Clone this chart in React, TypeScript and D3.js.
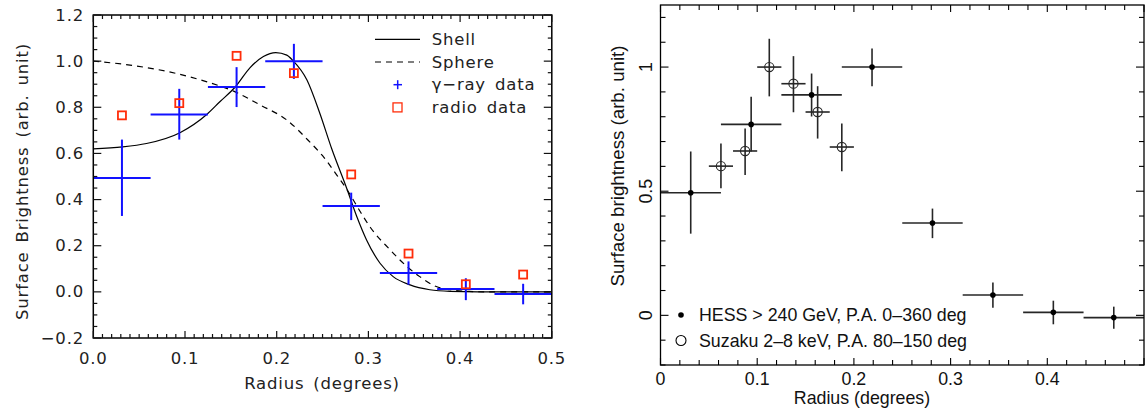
import React from 'react';
import * as d3 from 'd3';

// ---- Data ----
const binLo = [0, 0.0625, 0.125, 0.1875, 0.25, 0.3125, 0.375, 0.4375];
const binHi = [0.0625, 0.125, 0.1875, 0.25, 0.3125, 0.375, 0.4375, 0.5];
const binMid = [0.03125, 0.09375, 0.15625, 0.21875, 0.28125, 0.34375, 0.40625, 0.46875];
const gammaY = [0.494, 0.769, 0.888, 1.0, 0.372, 0.082, 0.012, -0.009];
const gammaErrHi = [0.66, 0.88, 0.974, 1.075, 0.43, 0.132, 0.059, 0.035];
const gammaErrLo = [0.329, 0.66, 0.801, 0.923, 0.311, 0.031, -0.036, -0.054];
const radioY = [0.765, 0.818, 1.023, 0.948, 0.509, 0.166, 0.033, 0.075];

const shellX = [0, 0.032, 0.058, 0.0945, 0.124, 0.138, 0.155, 0.171, 0.1855, 0.199, 0.211, 0.218, 0.233, 0.247, 0.26, 0.2763, 0.287, 0.298, 0.3127, 0.327, 0.3454, 0.367, 0.389, 0.42, 0.5];
const shellY = [0.62, 0.628, 0.643, 0.69, 0.77, 0.824, 0.889, 0.972, 1.02, 1.037, 1.026, 1.001, 0.918, 0.774, 0.62, 0.449, 0.33, 0.225, 0.124, 0.066, 0.03, 0.009, 0.002, 0, 0];

const sphereX = [0, 0.04, 0.09, 0.124, 0.153, 0.182, 0.211, 0.236, 0.25, 0.264, 0.278, 0.29, 0.302, 0.323, 0.342, 0.356, 0.374, 0.389, 0.41, 0.43, 0.5];
const sphereY = [1.0, 0.983, 0.947, 0.91, 0.87, 0.81, 0.745, 0.65, 0.59, 0.515, 0.435, 0.355, 0.28, 0.185, 0.11, 0.066, 0.023, 0.009, 0.002, 0, 0];

const suzX = [0.0625, 0.0875, 0.1125, 0.1375, 0.1625, 0.1875];
const suzLo = [0.05, 0.075, 0.1, 0.125, 0.15, 0.175];
const suzHi = [0.075, 0.1, 0.125, 0.15, 0.175, 0.2];
const suzY = [0.601, 0.662, 1.0, 0.933, 0.819, 0.678];
const suzErrHi = [0.692, 0.753, 1.114, 1.044, 0.923, 0.773];
const suzErrLo = [0.512, 0.565, 0.882, 0.818, 0.712, 0.58];

const leftLegend = ['Shell', 'Sphere', 'γ−ray data', 'radio data'];
const rightLegend = ['HESS > 240 GeV, P.A. 0–360 deg', 'Suzaku 2–8 keV, P.A. 80–150 deg'];

// ---- Scales ----
const xL = d3.scaleLinear().domain([0, 0.5]).range([93.3, 551.8]);
const yL = d3.scaleLinear().domain([-0.2, 1.2]).range([338, 15]);
const xR = d3.scaleLinear().domain([0, 0.5]).range([660.5, 1144]);
const yR = d3.scaleLinear().domain([-0.2, 1.25]).range([365, 5]);

const LF = "'DejaVu Sans', sans-serif";
const RF = "'Liberation Sans', Arial, sans-serif";
const BLUE = '#1212ff';
const RED = '#ff2d0a';

const fmtL = (v: number) => (v < 0 ? '−' : '') + Math.abs(v).toFixed(1);
const fmtR = (v: number) => String(+v.toFixed(1));

function LeftPanel() {
  const [x0, x1] = xL.range();
  const [y0, y1] = yL.range();
  const line = d3.line<[number, number]>().x(d => xL(d[0])).y(d => yL(d[1])).curve(d3.curveMonotoneX);
  const shell = line(shellX.map((x, i) => [x, shellY[i]]));
  const sphere = line(sphereX.map((x, i) => [x, sphereY[i]]));
  const xMinor = xL.ticks(50);
  const xMajor = xL.ticks(5);
  const yMinor = yL.ticks(28);
  const yMajor = yL.ticks(7);
  const tc = '#111';
  const txt = { fontFamily: LF, fontSize: 16.5, fill: '#222', letterSpacing: 0.8, wordSpacing: 3 } as any;
  return (
    <g>
      <path d={shell || ''} fill="none" stroke="#000" strokeWidth={1.2} />
      <path d={sphere || ''} fill="none" stroke="#000" strokeWidth={1.2} strokeDasharray="6,5" />
      {binMid.map((m, i) => (
        <g key={'g' + i} stroke={BLUE} strokeWidth={2}>
          <line x1={xL(binLo[i])} x2={xL(binHi[i])} y1={yL(gammaY[i])} y2={yL(gammaY[i])} />
          <line x1={xL(m)} x2={xL(m)} y1={yL(gammaErrLo[i])} y2={yL(gammaErrHi[i])} />
        </g>
      ))}
      {binMid.map((m, i) => (
        <rect key={'r' + i} x={xL(m) - 4} y={yL(radioY[i]) - 4} width={8} height={8} fill="none" stroke={RED} strokeWidth={1.8} />
      ))}
      <rect x={x0} y={y1} width={x1 - x0} height={y0 - y1} fill="none" stroke="#000" strokeWidth={1.5} />
      {xMinor.map((t, i) => {
        const maj = xMajor.some(m => Math.abs(m - t) < 1e-9);
        const len = maj ? 7 : 4;
        return (
          <g key={'xt' + i} stroke={tc} strokeWidth={1.2}>
            <line x1={xL(t)} x2={xL(t)} y1={y0} y2={y0 - len} />
            <line x1={xL(t)} x2={xL(t)} y1={y1} y2={y1 + len} />
          </g>
        );
      })}
      {yMinor.map((t, i) => {
        const maj = yMajor.some(m => Math.abs(m - t) < 1e-9);
        const len = maj ? 8 : 4;
        return (
          <g key={'yt' + i} stroke={tc} strokeWidth={1.2}>
            <line x1={x0} x2={x0 + len} y1={yL(t)} y2={yL(t)} />
            <line x1={x1} x2={x1 - len} y1={yL(t)} y2={yL(t)} />
          </g>
        );
      })}
      {xMajor.map((t, i) => (
        <text key={'xl' + i} x={xL(t)} y={358} textAnchor="middle" dominantBaseline="central" style={txt}>{fmtL(t)}</text>
      ))}
      {yMajor.map((t, i) => (
        <text key={'yl' + i} x={84} y={yL(t)} textAnchor="end" dominantBaseline="central" style={txt}>{fmtL(t)}</text>
      ))}
      <text x={322} y={383} textAnchor="middle" dominantBaseline="central" style={txt}>Radius (degrees)</text>
      <text transform={`translate(22,${(y0 + y1) / 2 + 5}) rotate(-90)`} textAnchor="middle" dominantBaseline="central" style={txt}>Surface Brightness (arb. unit)</text>
      {leftLegend.map((s, i) => {
        const cy = 39.3 + i * 22.7;
        return (
          <g key={'lg' + i}>
            {i === 0 && <line x1={375} x2={420} y1={cy} y2={cy} stroke="#000" strokeWidth={1.2} />}
            {i === 1 && <line x1={375} x2={420} y1={cy} y2={cy} stroke="#000" strokeWidth={1.2} strokeDasharray="6,5" />}
            {i === 2 && (
              <g stroke={BLUE} strokeWidth={1.5}>
                <line x1={393.5} x2={402} y1={cy} y2={cy} />
                <line x1={397.7} x2={397.7} y1={cy - 4.5} y2={cy + 4.5} />
              </g>
            )}
            {i === 3 && <rect x={393} y={cy - 4.5} width={9} height={9} fill="none" stroke={RED} strokeWidth={1.3} />}
            <text x={431.7} y={cy} dominantBaseline="central" style={txt}>{s}</text>
          </g>
        );
      })}
    </g>
  );
}

function RightPanel() {
  const [x0, x1] = xR.range();
  const [y0, y1] = yR.range();
  const xMinor = xR.ticks(25);
  const xMajor = xR.ticks(5);
  const yMinor = yR.ticks(14);
  const yMajor = yR.ticks(3);
  const txt = { fontFamily: RF, fontSize: 17.8, fill: '#111' } as any;
  const lbl = { fontFamily: RF, fontSize: 18.7, fill: '#111' } as any;
  const ec = '#262626';
  return (
    <g>
      {binMid.map((m, i) => (
        <g key={'h' + i} stroke={ec} strokeWidth={1.6}>
          <line x1={xR(binLo[i])} x2={xR(binHi[i])} y1={yR(gammaY[i])} y2={yR(gammaY[i])} />
          <line x1={xR(m)} x2={xR(m)} y1={yR(gammaErrLo[i])} y2={yR(gammaErrHi[i])} />
        </g>
      ))}
      {binMid.map((m, i) => (
        <circle key={'hc' + i} cx={xR(m)} cy={yR(gammaY[i])} r={2.8} fill="#000" />
      ))}
      {suzX.map((m, i) => (
        <g key={'s' + i} stroke={ec} strokeWidth={1.6}>
          <line x1={xR(suzLo[i])} x2={xR(suzHi[i])} y1={yR(suzY[i])} y2={yR(suzY[i])} />
          <line x1={xR(m)} x2={xR(m)} y1={yR(suzErrLo[i])} y2={yR(suzErrHi[i])} />
          <circle cx={xR(m)} cy={yR(suzY[i])} r={4.6} fill="none" strokeWidth={1.1} />
        </g>
      ))}
      <rect x={x0} y={y1} width={x1 - x0} height={y0 - y1} fill="none" stroke="#000" strokeWidth={1.3} />
      {xMinor.map((t, i) => {
        const maj = xMajor.some(m => Math.abs(m - t) < 1e-9);
        const len = maj ? 7 : 5;
        return (
          <g key={'xt' + i} stroke="#000" strokeWidth={1.1}>
            <line x1={xR(t)} x2={xR(t)} y1={y0} y2={y0 - len} />
            <line x1={xR(t)} x2={xR(t)} y1={y1} y2={y1 + len} />
          </g>
        );
      })}
      {yMinor.map((t, i) => {
        const maj = yMajor.some(m => Math.abs(m - t) < 1e-9);
        const len = maj ? 8 : 5;
        return (
          <g key={'yt' + i} stroke="#000" strokeWidth={1.1}>
            <line x1={x0} x2={x0 + len} y1={yR(t)} y2={yR(t)} />
            <line x1={x1} x2={x1 - len} y1={yR(t)} y2={yR(t)} />
          </g>
        );
      })}
      {xMajor.filter(t => t < 0.45).map((t, i) => (
        <text key={'xl' + i} x={xR(t)} y={379} textAnchor="middle" dominantBaseline="central" style={txt}>{fmtR(t)}</text>
      ))}
      {yMajor.map((t, i) => (
        <text key={'yl' + i} transform={`translate(646,${yR(t)}) rotate(-90)`} textAnchor="middle" dominantBaseline="central" style={txt}>{fmtR(t)}</text>
      ))}
      <text x={862} y={398} textAnchor="middle" dominantBaseline="central" style={txt}>Radius (degrees)</text>
      <text transform={`translate(617,166) rotate(-90)`} textAnchor="middle" dominantBaseline="central" style={lbl}>Surface brightness (arb. unit)</text>
      <circle cx={681} cy={315} r={2.8} fill="#000" />
      <text x={699} y={315} dominantBaseline="central" style={txt}>{rightLegend[0]}</text>
      <circle cx={681} cy={340.5} r={5} fill="none" stroke="#000" strokeWidth={1.1} />
      <text x={699} y={340.5} dominantBaseline="central" style={txt}>{rightLegend[1]}</text>
    </g>
  );
}

export default function App() {
  return (
    <svg width={1145} height={410} viewBox="0 0 1145 410" style={{ position: 'absolute', left: 0, top: 0, background: '#fff' }}>
      <rect x={0} y={0} width={1145} height={410} fill="#fff" />
      <LeftPanel />
      <RightPanel />
    </svg>
  );
}
